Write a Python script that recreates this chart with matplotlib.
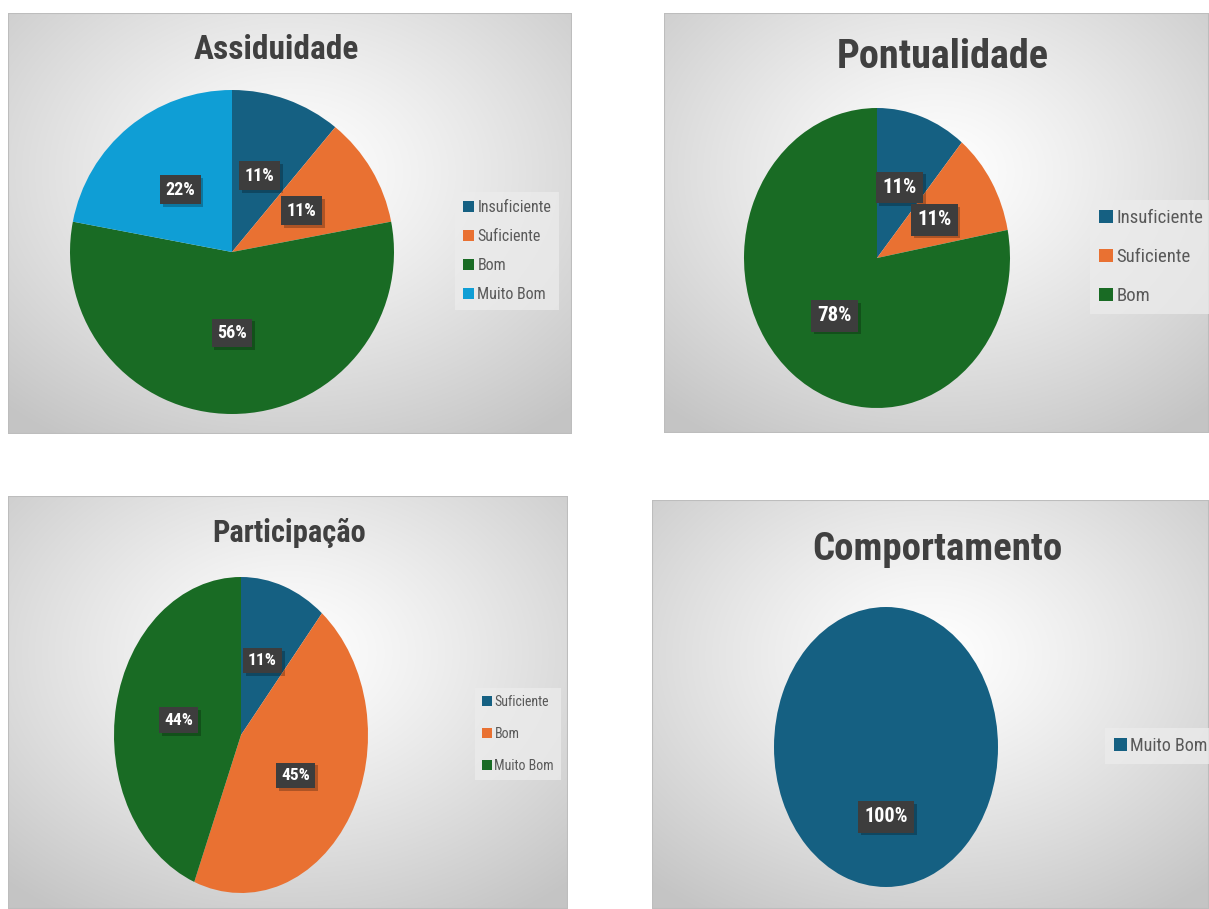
import numpy as np
import matplotlib
matplotlib.use('Agg')
import matplotlib.pyplot as plt
from matplotlib import font_manager, patheffects
from matplotlib.patches import Rectangle

W, H = 1209, 909

# data (percentages as shown on the charts)
assid_labels = ['Insuficiente', 'Suficiente', 'Bom', 'Muito Bom']
assid_values = [11, 11, 56, 22]
pont_labels = ['Insuficiente', 'Suficiente', 'Bom']
pont_values = [11, 11, 78]
part_labels = ['Suficiente', 'Bom', 'Muito Bom']
part_values = [11, 45, 44]
comp_labels = ['Muito Bom']
comp_values = [100]

COLORS = ['#156082', '#E97132', '#196B24', '#0F9ED5']
TEXT_GREY = '#404040'

# pick a narrow font if one is installed
names = {f.name for f in font_manager.fontManager.ttflist}
NARROW = 'DejaVu Sans'
for cand in ['Roboto Condensed', 'Liberation Sans Narrow', 'DejaVu Sans Condensed',
             'Open Sans Condensed', 'Noto Sans Condensed']:
    if cand in names:
        NARROW = cand
        break
FONT = [NARROW, 'DejaVu Sans']

# panel styling: (title, labels, values, panel box px, pie centre+radii px,
#                 title centre px, title size, pct size, legend anchor px, legend size, spacing)
panels = [
    ('Assiduidade', assid_labels, assid_values, (8, 13, 572, 434), (232, 252, 162, 162),
     (276, 50), 24, 13, (455, 251), 11.5, 0.88),
    ('Pontualidade', pont_labels, pont_values, (664, 13, 1209, 433), (877, 258, 133, 150),
     (943, 57), 29, 15, (1090, 257), 13.5, 1.1),
    ('Participação', part_labels, part_values, (8, 496, 568, 909), (241, 735, 127, 158),
     (289, 533), 22, 12.5, (475, 734), 10, 1.3),
    ('Comportamento', comp_labels, comp_values, (652, 500, 1209, 909), (886, 747, 112, 140),
     (937, 549), 28, 14.5, (1105, 746), 13, 1.0),
]


def fig_rect(x0, y0, x1, y1):
    return [x0 / W, 1 - y1 / H, (x1 - x0) / W, (y1 - y0) / H]


fig = plt.figure(figsize=(W / 100, H / 100), dpi=100)
fig.patch.set_facecolor('white')

for (title, labels, values, box, pie, tpos, tsize, psize, lpos, lsize, lspace) in panels:
    x0, y0, x1, y1 = box
    # radial grey background
    bg = fig.add_axes(fig_rect(x0, y0, x1, y1), zorder=0)
    w, h = x1 - x0, y1 - y0
    yy, xx = np.mgrid[0:h, 0:w]
    d = np.sqrt(((xx - 0.5 * w) / w) ** 2 + ((yy - 0.38 * h) / h) ** 2) / 0.75
    shade = 1 - 0.23 * np.clip(d, 0, 1) ** 1.2
    bg.imshow(np.dstack([shade] * 3), extent=(0, w, h, 0), aspect='auto', interpolation='bilinear')
    bg.add_patch(Rectangle((0, 0), w, h, fill=False, ec='#bdbdbd', lw=1.5))
    bg.set_xlim(0, w)
    bg.set_ylim(h, 0)
    bg.axis('off')

    # pie stretched to its ellipse
    cx, cy, rx, ry = pie
    ax = fig.add_axes(fig_rect(cx - rx, cy - ry, cx + rx, cy + ry), zorder=2)
    wedges, _, pcts = ax.pie(values, colors=COLORS[:len(values)], startangle=90,
                             counterclock=False, autopct=lambda p: f'{p:.0f}%',
                             pctdistance=0.5, radius=1, wedgeprops=dict(linewidth=0))
    ax.set_aspect('auto')
    ax.set_xlim(-1, 1)
    ax.set_ylim(-1, 1)
    ax.axis('off')
    for t in pcts:
        t.set_color('white')
        t.set_fontsize(psize)
        t.set_fontweight('bold')
        t.set_family(FONT)
        t.set_bbox(dict(boxstyle='square,pad=0.3', fc='#3d3d3d', ec='none'))
        t.get_bbox_patch().set_path_effects([
            patheffects.SimplePatchShadow(offset=(2, -2), shadow_rgbFace='black', alpha=0.25),
            patheffects.Normal()])

    fig.text(tpos[0] / W, 1 - tpos[1] / H, title, ha='center', va='center',
             fontsize=tsize, fontweight='bold', color=TEXT_GREY, family=FONT)

    leg = ax.legend(wedges, labels, loc='center left',
                    bbox_to_anchor=(lpos[0] / W, 1 - lpos[1] / H),
                    bbox_transform=fig.transFigure, frameon=True, fancybox=False,
                    prop=dict(family=FONT, size=lsize), labelcolor='#595959',
                    handlelength=0.7, handleheight=0.7, handletextpad=0.2,
                    labelspacing=lspace, borderpad=0.5, borderaxespad=0)
    leg.get_frame().set_facecolor('#ececec')
    leg.get_frame().set_alpha(0.75)
    leg.get_frame().set_edgecolor('none')

fig.savefig('out.png', dpi=100)
